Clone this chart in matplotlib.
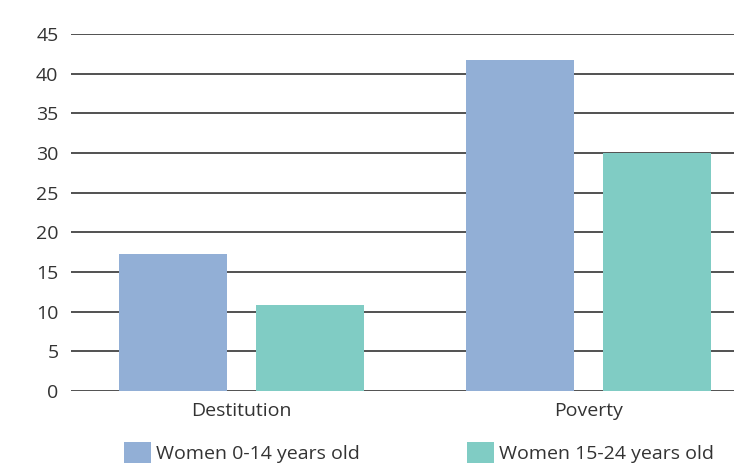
import matplotlib
matplotlib.use("Agg")
import matplotlib.pyplot as plt
import numpy as np

# data
categories = ["Destitution", "Poverty"]
series_names = ["Women 0-14 years old", "Women 15-24 years old"]
women_0_14 = [17.3, 41.7]
women_15_24 = [10.8, 30.0]
y_ticks = [0, 5, 10, 15, 20, 25, 30, 35, 40, 45]

colors = ["#92AFD6", "#80CCC4"]
text_color = "#333333"

plt.rcParams['font.family'] = ['Open Sans', 'DejaVu Sans']

fig = plt.figure(figsize=(7.34, 4.63), dpi=100)
ax = fig.add_axes([71 / 734, 1 - 391 / 463, 1 - 71 / 734, (391 - 34) / 463])

x = np.arange(len(categories))
width = 0.312
offset = 0.1977
b1 = ax.bar(x - offset, women_0_14, width, color=colors[0], label=series_names[0], zorder=3)
b2 = ax.bar(x + offset, women_15_24, width, color=colors[1], label=series_names[1], zorder=3)

ax.set_ylim(0, 45)
ax.set_xlim(-0.492, 1.421)
ax.set_yticks(y_ticks)
ax.set_xticks(x)
ax.set_xticklabels(categories)
ax.yaxis.grid(True, color="#333333", linewidth=1.2, zorder=0)
ax.set_axisbelow(True)
for s in ax.spines.values():
    s.set_visible(False)
ax.tick_params(axis="both", length=0, labelsize=14, colors=text_color)
ax.tick_params(axis="y", pad=9)
ax.tick_params(axis="x", pad=8)

fig.legend(handles=[b1, b2], labels=series_names, loc="upper left",
           bbox_to_anchor=(116 / 734, 1 - 434 / 463), ncol=2, frameon=False,
           fontsize=14, handlelength=1.4, handleheight=1.4,
           handletextpad=0.25, columnspacing=5.5, labelcolor=text_color,
           borderaxespad=0)

fig.savefig("out.png", dpi=100)
